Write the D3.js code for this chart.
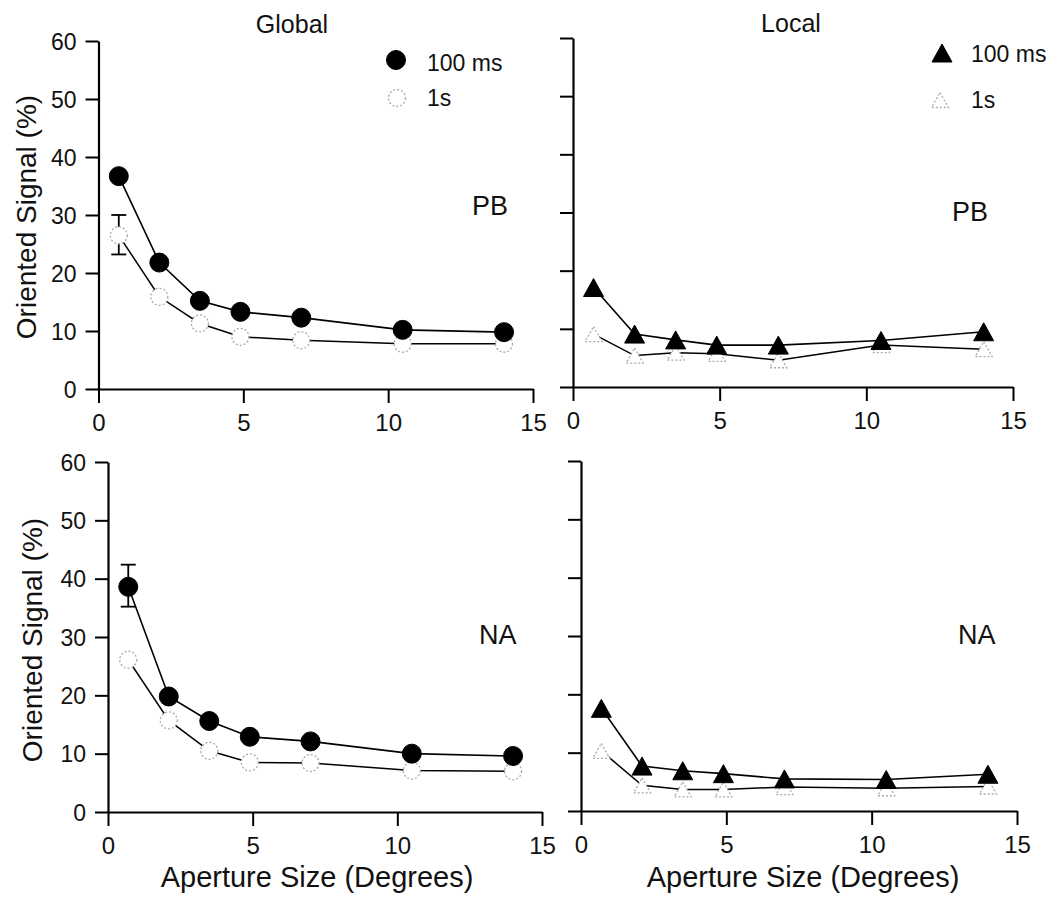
<!DOCTYPE html>
<html>
<head>
<meta charset="utf-8">
<script src="https://cdn.jsdelivr.net/npm/d3@7"></script>
<style>
  html, body { margin: 0; padding: 0; background: #fff; }
  svg { display: block; }
  text { font-family: "Liberation Sans", Arial, Helvetica, sans-serif; fill: #111; }
</style>
</head>
<body>
<svg id="chart" width="1058" height="899"></svg>
<script>
// ---------------- data ----------------
const apertures = [0.7, 2.1, 3.5, 4.9, 7.0, 10.5, 14.0];
const xTicks = [0, 5, 10, 15];
const yTicks = [0, 10, 20, 30, 40, 50, 60];
const seriesNames = ["100 ms", "1s"];
const conditions = ["Global", "Local"];
const subjects = ["PB", "NA"];

const pbGlobal100 = [36.7, 21.8, 15.2, 13.3, 12.3, 10.2, 9.8];
const pbGlobal1s  = [26.5, 15.9, 11.3, 9.0, 8.4, 7.8, 7.8];
const pbLocal100  = [17.1, 9.1, 8.1, 7.2, 7.2, 8.0, 9.5];
const pbLocal1s   = [9.1, 5.4, 5.9, 5.7, 4.6, 7.2, 6.5];
const naGlobal100 = [38.6, 19.8, 15.6, 12.9, 12.1, 10.0, 9.6];
const naGlobal1s  = [26.1, 15.7, 10.5, 8.5, 8.4, 7.1, 7.0];
const naLocal100  = [17.6, 7.7, 6.9, 6.4, 5.5, 5.4, 6.3];
const naLocal1s   = [10.3, 4.4, 3.7, 3.7, 4.1, 3.9, 4.2];

// error bars [low, high] at first aperture
const pbGlobal1sErr  = [23.2, 30.0];
const naGlobal100Err = [35.2, 42.4];

// ---------------- layout ----------------
const panels = [
  { xr: [98.5, 533], yr: [389, 41],  s100: pbGlobal100, s1: pbGlobal1s, shape: "circle",   yLabels: true,
    subj: subjects[0], subjPos: [472, 215], err: { series: "s1", range: pbGlobal1sErr } },
  { xr: [573, 1013], yr: [387, 38],  s100: pbLocal100,  s1: pbLocal1s,  shape: "triangle", yLabels: false,
    subj: subjects[0], subjPos: [952, 221] },
  { xr: [108, 542],  yr: [812, 462], s100: naGlobal100, s1: naGlobal1s, shape: "circle",   yLabels: true,
    subj: subjects[1], subjPos: [479, 644], err: { series: "s100", range: naGlobal100Err } },
  { xr: [581, 1017], yr: [811, 461], s100: naLocal100,  s1: naLocal1s,  shape: "triangle", yLabels: false,
    subj: subjects[1], subjPos: [958, 644] }
];

const svg = d3.select("#chart");
const tri = (w, h) => `M0,${-h/2}L${w/2},${h/2}L${-w/2},${h/2}Z`;

function drawMarker(g, shape, cx, cy, filled) {
  if (shape === "circle") {
    g.append("circle").attr("cx", cx).attr("cy", cy).attr("r", filled ? 9.5 : 8.5)
      .attr("fill", filled ? "#000" : "#fff")
      .attr("stroke", filled ? "#000" : "#aaa")
      .attr("stroke-width", filled ? 1 : 1.3)
      .attr("stroke-dasharray", filled ? null : "2,2");
  } else {
    g.append("path").attr("d", filled ? tri(20, 18) : tri(17, 15))
      .attr("transform", `translate(${cx},${cy})`)
      .attr("fill", filled ? "#000" : "#fff")
      .attr("stroke", filled ? "#000" : "#aaa")
      .attr("stroke-width", filled ? 1 : 1.3)
      .attr("stroke-dasharray", filled ? null : "2,2");
  }
}

panels.forEach(p => {
  const x = d3.scaleLinear().domain([0, 15]).range(p.xr);
  const y = d3.scaleLinear().domain([0, 60]).range(p.yr);
  const g = svg.append("g");

  // axes
  const xAxis = d3.axisBottom(x).tickValues(xTicks).tickSizeInner(14).tickSizeOuter(0)
    .tickPadding(11).tickFormat(d3.format("d"));
  const yAxis = d3.axisLeft(y).tickValues(yTicks).tickSizeInner(13).tickSizeOuter(0)
    .tickPadding(9).tickFormat(p.yLabels ? d3.format("d") : () => "");

  const gx = g.append("g").attr("transform", `translate(0,${p.yr[0]})`).call(xAxis);
  const gy = g.append("g").attr("transform", `translate(${p.xr[0]},0)`).call(yAxis);
  [gx, gy].forEach(a => {
    a.select(".domain").attr("stroke", "#000").attr("stroke-width", 2.2);
    a.selectAll(".tick line").attr("stroke", "#000").attr("stroke-width", 2);
    a.selectAll(".tick text").attr("fill", "#111").style("font-family", '"Liberation Sans", Arial, sans-serif');
  });
  gx.selectAll(".tick text").style("font-size", "24px");
  gy.selectAll(".tick text").style("font-size", "23px").attr("dy", "0.36em");

  const line = d3.line().x((d, i) => x(apertures[i])).y(d => y(d));

  // lines
  g.append("path").datum(p.s1).attr("d", line).attr("fill", "none")
    .attr("stroke", "#000").attr("stroke-width", 1.5);
  g.append("path").datum(p.s100).attr("d", line).attr("fill", "none")
    .attr("stroke", "#000").attr("stroke-width", 1.6);

  // error bar
  if (p.err) {
    const ex = x(apertures[0]);
    const [lo, hi] = p.err.range;
    const eg = g.append("g").attr("stroke", "#000").attr("stroke-width", 1.8);
    eg.append("line").attr("x1", ex).attr("x2", ex).attr("y1", y(lo)).attr("y2", y(hi));
    eg.append("line").attr("x1", ex - 7.5).attr("x2", ex + 7.5).attr("y1", y(lo)).attr("y2", y(lo));
    eg.append("line").attr("x1", ex - 7.5).attr("x2", ex + 7.5).attr("y1", y(hi)).attr("y2", y(hi));
  }

  // markers
  p.s1.forEach((v, i) => drawMarker(g, p.shape, x(apertures[i]), y(v), false));
  p.s100.forEach((v, i) => drawMarker(g, p.shape, x(apertures[i]), y(v), true));

  // subject label
  g.append("text").attr("x", p.subjPos[0]).attr("y", p.subjPos[1])
    .style("font-size", "27px").text(p.subj);
});

// column titles
svg.append("text").attr("x", 292).attr("y", 33).attr("text-anchor", "middle")
  .style("font-size", "25px").text(conditions[0]);
svg.append("text").attr("x", 791).attr("y", 32).attr("text-anchor", "middle")
  .style("font-size", "25px").text(conditions[1]);

// legends
const legends = [
  { shape: "circle",   items: [[396, 60, 427, 71], [397, 98, 427, 106]] },
  { shape: "triangle", items: [[942, 53, 971, 62], [940, 100, 971, 108]] }
];
legends.forEach(L => {
  L.items.forEach((it, i) => {
    drawMarker(svg, L.shape, it[0], it[1], i === 0);
    svg.append("text").attr("x", it[2]).attr("y", it[3]).style("font-size", "23px").text(seriesNames[i]);
  });
});

// y-axis titles
[[36, 217], [42, 640]].forEach(([tx, ty]) => {
  svg.append("text").attr("transform", `translate(${tx},${ty}) rotate(-90)`)
    .attr("text-anchor", "middle").style("font-size", "28px").text("Oriented Signal (%)");
});
// x-axis titles
[[317, 887], [803, 887]].forEach(([tx, ty]) => {
  svg.append("text").attr("x", tx).attr("y", ty).attr("text-anchor", "middle")
    .style("font-size", "29px").text("Aperture Size (Degrees)");
});
</script>
</body>
</html>
